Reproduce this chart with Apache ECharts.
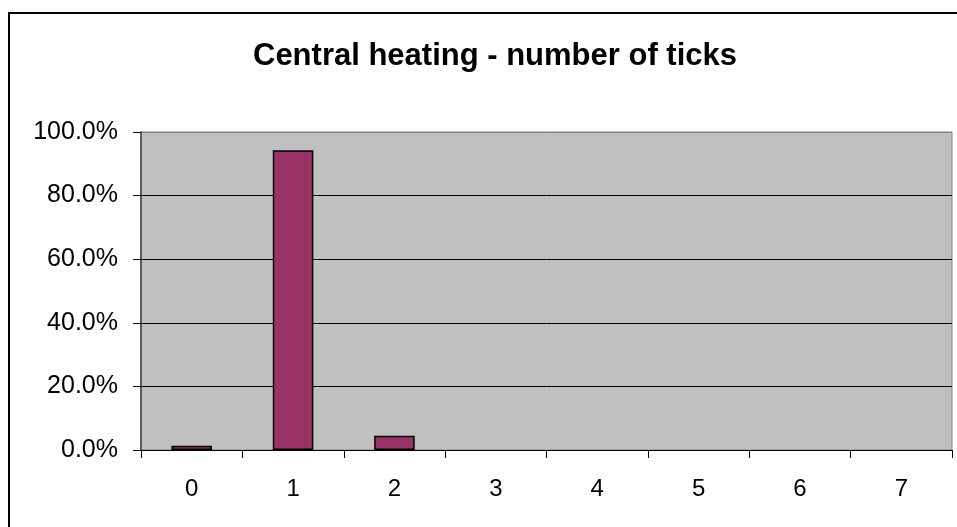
<!DOCTYPE html>
<html>
<head>
<meta charset="utf-8">
<script src="https://cdn.jsdelivr.net/npm/echarts@6/dist/echarts.min.js"></script>
<style>
  html, body { margin: 0; padding: 0; background: #fff; }
  #chart { width: 957px; height: 527px; }
</style>
</head>
<body>
<div id="chart"></div>
<script>
// number of ticks on the form
const categories = ['0', '1', '2', '3', '4', '5', '6', '7']
// share of answers, percent
const shares = [1.3, 94.3, 4.5, 0, 0, 0, 0, 0]
const yTicks = [0, 20, 40, 60, 80, 100]

const myChart = echarts.init(document.getElementById('chart'))

const options = {
  backgroundColor: '#fff',
  animation: false,
  textStyle: { fontFamily: 'Liberation Sans, Arial, sans-serif' },
  title: {
    text: 'Central heating - number of ticks',
    left: 'center',
    top: 36,
    left: 490,
    textAlign: 'center',
    textStyle: {
      fontSize: 31,
      fontWeight: 'bold',
      color: '#000',
      fontFamily: 'Liberation Sans, Arial, sans-serif'
    }
  },
  graphic: [
    {
      type: 'rect',
      shape: { x: 9, y: 13, width: 1000, height: 600 },
      style: { fill: 'none', stroke: '#000', lineWidth: 2 },
      silent: true
    }
  ],
  grid: {
    left: 141,
    right: 5,
    top: 132,
    bottom: 77,
    show: true,
    backgroundColor: '#c0c0c0',
    borderColor: '#808080',
    borderWidth: 1
  },
  xAxis: {
    type: 'category',
    data: categories,
    boundaryGap: true,
    axisLine: { lineStyle: { color: '#000', width: 1 } },
    axisTick: { show: true, inside: false, length: 8, alignWithLabel: false, lineStyle: { color: '#000' } },
    axisLabel: { color: '#000', fontSize: 24, margin: 27 },
    splitLine: { show: false }
  },
  yAxis: {
    type: 'value',
    min: yTicks[0],
    max: yTicks[yTicks.length - 1],
    interval: 20,
    axisLine: { show: true, lineStyle: { color: '#404040', width: 1.5 } },
    axisTick: { show: true, inside: false, length: 8, lineStyle: { color: '#000' } },
    axisLabel: {
      color: '#000',
      fontSize: 25,
      margin: 23,
      formatter: v => v.toFixed(1) + '%'
    },
    splitLine: {
      show: true,
      lineStyle: { color: ['#000', '#000', '#000', '#000', '#000', '#808080'], width: 1 }
    }
  },
  series: [
    {
      type: 'bar',
      // empty categories get no outline, as in the original
      data: shares.map(v => (v === 0 ? { value: v, itemStyle: { borderWidth: 0 } } : v)),
      barWidth: '40%',
      itemStyle: {
        color: '#993366',
        borderColor: '#000',
        borderWidth: 1.5
      }
    }
  ]
}
myChart.setOption(options)
</script>
</body>
</html>
